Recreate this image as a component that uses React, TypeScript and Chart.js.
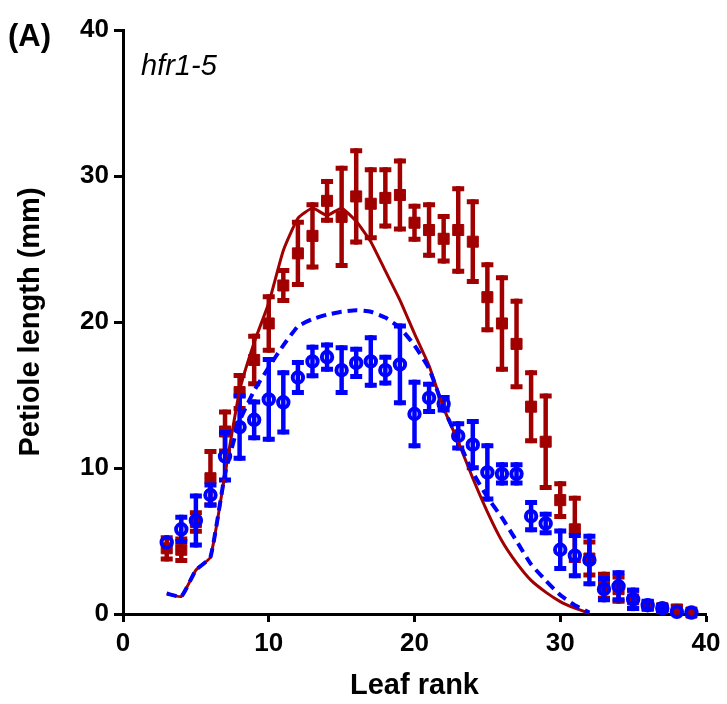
import React, { useEffect, useRef } from 'react';
import { Chart, registerables } from 'chart.js';

Chart.register(...registerables);

// Leaf ranks of the measured points
const ranks = [3, 4, 5, 6, 7, 8, 9, 10, 11, 12, 13, 14, 15, 16, 17, 18, 19, 20, 21, 22, 23, 24, 25, 26, 27, 28, 29, 30, 31, 32, 33, 34, 35, 36, 37, 38, 39];

// Filled squares (dark red) with error bars
const wtMean = [4.5, 4.4, 6.3, 9.3, 12.5, 15.2, 17.4, 19.9, 22.5, 24.7, 25.9, 28.3, 27.2, 28.6, 28.1, 28.5, 28.7, 26.8, 26.3, 25.7, 26.3, 25.5, 21.7, 19.9, 18.5, 14.2, 11.8, 7.8, 5.8, 3.8, 1.9, 1.7, 1.0, 0.6, 0.4, 0.3, 0.1];
const wtErr = [0.9, 0.9, 0.8, 2.0, 1.5, 1.3, 1.8, 2.0, 1.2, 2.3, 2.3, 1.5, 3.5, 3.3, 2.5, 2.1, 2.5, 1.3, 1.9, 1.7, 3.0, 2.9, 2.4, 3.3, 3.1, 2.5, 3.3, 1.3, 2.3, 1.3, 1.0, 1.0, 0.8, 0.4, 0.3, 0.4, 0];

// Open circles (blue) with error bars
const mutMean = [4.9, 5.8, 6.4, 8.15, 10.8, 12.8, 13.3, 14.7, 14.5, 16.2, 17.3, 17.6, 16.7, 17.2, 17.3, 16.7, 17.1, 13.7, 14.8, 14.4, 12.2, 11.6, 9.7, 9.6, 9.6, 6.7, 6.2, 4.4, 4.0, 3.7, 1.7, 1.9, 1.0, 0.6, 0.4, 0.15, 0.1];
const mutErr = [0, 1.0, 1.85, 0.85, 1.8, 2.3, 1.4, 2.9, 2.2, 1.2, 1.15, 1.0, 1.7, 1.1, 1.8, 1.05, 2.8, 2.35, 1.1, 0.6, 1.0, 1.75, 2.0, 0.8, 0.8, 1.1, 0.8, 1.45, 1.55, 1.8, 0.9, 1.1, 0.8, 0.45, 0.35, 0, 0];

// Model curves
const modelRanks = [3, 4, 5, 6, 7, 8, 9, 10, 11, 12, 13, 14, 15, 16, 17, 18, 19, 20, 21, 22, 23, 24, 25, 26, 27, 28, 29, 30, 31, 32];
const wtModel = [1.4, 1.2, 3.0, 3.9, 9.6, 15.3, 18.6, 21.3, 24.9, 27.1, 27.8, 27.3, 27.8, 26.9, 25.5, 23.5, 21.5, 19.2, 17.0, 14.1, 11.8, 9.3, 7.0, 5.0, 3.5, 2.3, 1.5, 0.85, 0.4, 0.05];
const mutModel = [1.4, 1.2, 3.0, 3.9, 9.6, 13.2, 15.3, 16.9, 18.4, 19.7, 20.2, 20.5, 20.7, 20.8, 20.7, 20.3, 19.6, 18.4, 16.8, 14.1, 11.9, 9.7, 8.0, 6.6, 5.0, 3.4, 2.3, 1.3, 0.6, 0.1];

const xTicks = [0, 10, 20, 30, 40];
const yTicks = [0, 10, 20, 30, 40];

const panelLabel = '(A)';
const genotypeLabel = 'hfr1-5';
const xTitle = 'Leaf rank';
const yTitle = 'Petiole length (mm)';

const RED = '#a00000';
const BLUE = '#0000ff';
const FONT = "'Liberation Sans', Arial, sans-serif";

const errorBarPlugin = {
  id: 'errorBars',
  beforeDatasetDraw(chart: any, args: any) {
    const ds = chart.data.datasets[args.index];
    if (!ds.errors) return;
    const yScale = chart.scales.y;
    const ctx = chart.ctx;
    ctx.save();
    ctx.strokeStyle = ds.errColor;
    ctx.lineCap = 'butt';
    args.meta.data.forEach((el: any, i: number) => {
      const v = ds.data[i].y;
      const e = ds.errors[i];
      if (!e) return;
      const px = el.x;
      const top = yScale.getPixelForValue(v + e);
      const bot = yScale.getPixelForValue(Math.max(0, v - e));
      ctx.lineWidth = 4.5;
      ctx.beginPath();
      ctx.moveTo(px, top);
      ctx.lineTo(px, bot);
      ctx.stroke();
      ctx.lineWidth = 5;
      ctx.beginPath();
      ctx.moveTo(px - 6, top + 2.5);
      ctx.lineTo(px + 6, top + 2.5);
      ctx.moveTo(px - 6, bot - 2.5);
      ctx.lineTo(px + 6, bot - 2.5);
      ctx.stroke();
    });
    ctx.restore();
  },
};

const textPlugin = {
  id: 'texts',
  afterDraw(chart: any) {
    const ctx = chart.ctx;
    const area = chart.chartArea;
    ctx.save();
    ctx.fillStyle = '#000';
    ctx.textBaseline = 'alphabetic';
    ctx.textAlign = 'left';
    ctx.font = `bold 31px ${FONT}`;
    ctx.fillText(panelLabel, 8, 46);
    ctx.font = `italic 29px ${FONT}`;
    ctx.fillText(genotypeLabel, 141, 75);
    ctx.font = `bold 29px ${FONT}`;
    ctx.textAlign = 'center';
    ctx.fillText(xTitle, (area.left + area.right) / 2, 694);
    ctx.translate(39, (area.top + area.bottom) / 2);
    ctx.rotate(-Math.PI / 2);
    ctx.fillText(yTitle, 0, 0);
    ctx.restore();
  },
};

export default function App() {
  const ref = useRef<HTMLCanvasElement | null>(null);
  useEffect(() => {
    if (!ref.current) return;
    const chart = new Chart(ref.current, {
      type: 'scatter',
      data: {
        datasets: [
          {
            label: 'mutant model',
            type: 'line',
            data: modelRanks.map((x, i) => ({ x, y: mutModel[i] })),
            borderColor: BLUE,
            borderWidth: 4,
            borderDash: [10, 6],
            pointRadius: 0,
            fill: false,
            tension: 0.15,
            order: 0,
            clip: false as any,
          } as any,
          {
            label: 'wild type model',
            type: 'line',
            data: modelRanks.map((x, i) => ({ x, y: wtModel[i] })),
            borderColor: RED,
            borderWidth: 3,
            pointRadius: 0,
            fill: false,
            tension: 0.15,
            order: 1,
            clip: false as any,
          } as any,
          {
            label: 'mutant',
            data: ranks.map((x, i) => ({ x, y: mutMean[i] })),
            errors: mutErr,
            errColor: BLUE,
            showLine: false,
            pointStyle: 'circle',
            pointRadius: 5.2,
            pointBorderWidth: 4,
            pointBorderColor: BLUE,
            pointBackgroundColor: 'rgba(0,0,0,0)',
            order: 2,
            clip: false as any,
          } as any,
          {
            label: 'wild type',
            data: ranks.map((x, i) => ({ x, y: wtMean[i] })),
            errors: wtErr,
            errColor: RED,
            showLine: false,
            pointStyle: 'rect',
            pointRadius: 7.8,
            pointBorderWidth: 1,
            pointBorderColor: RED,
            pointBackgroundColor: RED,
            order: 3,
            clip: false as any,
          } as any,
        ],
      },
      options: {
        animation: false,
        responsive: false,
        devicePixelRatio: 1,
        layout: { padding: { top: 30, right: 21, left: 0, bottom: 0 } },
        plugins: { legend: { display: false }, tooltip: { enabled: false } },
        scales: {
          x: {
            type: 'linear',
            min: 0,
            max: 40,
            afterFit: (s: any) => { s.height = 90; },
            afterBuildTicks: (s: any) => { s.ticks = xTicks.map((v) => ({ value: v })); },
            ticks: {
              color: '#000',
              font: { family: FONT, size: 26, weight: 'bold' },
              padding: 6,
              maxRotation: 0,
            },
            grid: { drawOnChartArea: false, drawTicks: true, tickLength: 8, tickWidth: 3, tickColor: '#000' },
            border: { display: true, color: '#000', width: 3 },
          },
          y: {
            type: 'linear',
            min: 0,
            max: 40,
            afterFit: (s: any) => { s.width = 123; },
            afterBuildTicks: (s: any) => { s.ticks = yTicks.map((v) => ({ value: v })); },
            ticks: {
              color: '#000',
              font: { family: FONT, size: 26, weight: 'bold' },
              padding: 5,
            },
            grid: { drawOnChartArea: false, drawTicks: true, tickLength: 9, tickWidth: 3, tickColor: '#000' },
            border: { display: true, color: '#000', width: 3 },
          },
        },
      } as any,
      plugins: [errorBarPlugin, textPlugin],
    });
    return () => chart.destroy();
  }, []);
  return (
    <div style={{ position: 'absolute', left: 0, top: 0, width: 727, height: 704, background: '#fff' }}>
      <canvas ref={ref} width={727} height={704} style={{ display: 'block' }} />
    </div>
  );
}
